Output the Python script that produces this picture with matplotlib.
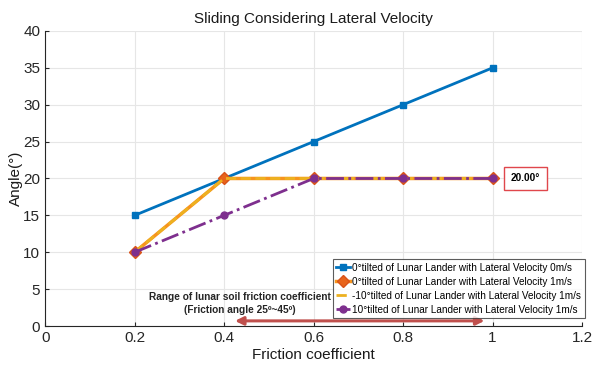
import numpy as np
import matplotlib.pyplot as plt

# Friction coefficient vs sliding angle
friction = [0.2, 0.4, 0.6, 0.8, 1.0]
angle_0tilt_0ms = [15, 20, 25, 30, 35]
angle_0tilt_1ms = [10, 20, 20, 20, 20]
angle_m10tilt_1ms = [10, 20, 20, 20, 20]
angle_10tilt_1ms = [10, 15, 20, 20, 20]

labels = ["0°tilted of Lunar Lander with Lateral Velocity 0m/s",
          "0°tilted of Lunar Lander with Lateral Velocity 1m/s",
          "-10°tilted of Lunar Lander with Lateral Velocity 1m/s",
          "10°tilted of Lunar Lander with Lateral Velocity 1m/s"]

xticks = [0, 0.2, 0.4, 0.6, 0.8, 1, 1.2]
yticks = [0, 5, 10, 15, 20, 25, 30, 35, 40]

plt.rcParams['font.family'] = ['Liberation Sans', 'DejaVu Sans']

fig = plt.figure(figsize=(5.94, 3.68), dpi=100)
ax = fig.add_axes([0.076, 0.114, 0.904, 0.802])

ax.plot(friction, angle_0tilt_0ms, color='#0072BD', linewidth=2,
        marker='s', markersize=4, markerfacecolor='#0072BD', label=labels[0])
ax.plot(friction, angle_0tilt_1ms, color='#F7941D', linewidth=2.5,
        marker='D', markersize=6, markerfacecolor='#E8641B',
        markeredgecolor='#D95319', label=labels[1])
ax.plot(friction, angle_m10tilt_1ms, color='#EDB120', linewidth=2,
        linestyle='--', label=labels[2])
ax.plot(friction, angle_10tilt_1ms, color='#7E2F8E', linewidth=2,
        linestyle='-.', marker='o', markersize=5, markerfacecolor='#7E2F8E',
        label=labels[3])

ax.set_xlim(0, 1.2)
ax.set_ylim(0, 40)
ax.set_xticks(xticks)
ax.set_xticklabels([f"{v:g}" for v in xticks])
ax.set_yticks(yticks)
ax.tick_params(labelsize=11, colors='#262626', direction='in', length=3)
ax.grid(True, color='#e6e6e6', linewidth=0.8)
ax.set_axisbelow(True)
for s in ['top', 'right']:
    ax.spines[s].set_visible(False)
for s in ['left', 'bottom']:
    ax.spines[s].set_color('#262626')

ax.set_title("Sliding Considering Lateral Velocity", fontsize=11, color='#1a1a1a')
ax.set_xlabel("Friction coefficient", fontsize=11, color='#1a1a1a', labelpad=2)
ax.set_ylabel("Angle(°)", fontsize=11, color='#1a1a1a', labelpad=0)

# range arrow
ax.annotate("", xy=(0.988, 0.7), xytext=(0.418, 0.7),
            arrowprops=dict(arrowstyle='<|-|>', color='#C0504D', lw=2.2,
                            mutation_scale=12))
ax.text(0.436, 3.05, "Range of lunar soil friction coefficient\n(Friction angle 25º~45º)",
        ha='center', va='center', fontsize=7.3, fontweight='bold', color='#262626',
        linespacing=1.35)

ax.text(1.073, 20, "20.00°", ha='center', va='center', fontsize=7.3, fontweight='bold',
        bbox=dict(boxstyle='square,pad=0.65', facecolor='white', edgecolor='#E0474C', lw=1))

leg = ax.legend(loc='lower right', bbox_to_anchor=(1.005, 0.027), fontsize=7.2,
                frameon=True, fancybox=False, edgecolor='#333333', handlelength=1.4,
                handletextpad=0.2, borderpad=0.35, labelspacing=0.4, borderaxespad=0)
leg.get_frame().set_linewidth(0.8)

fig.savefig("out.png", dpi=100)
